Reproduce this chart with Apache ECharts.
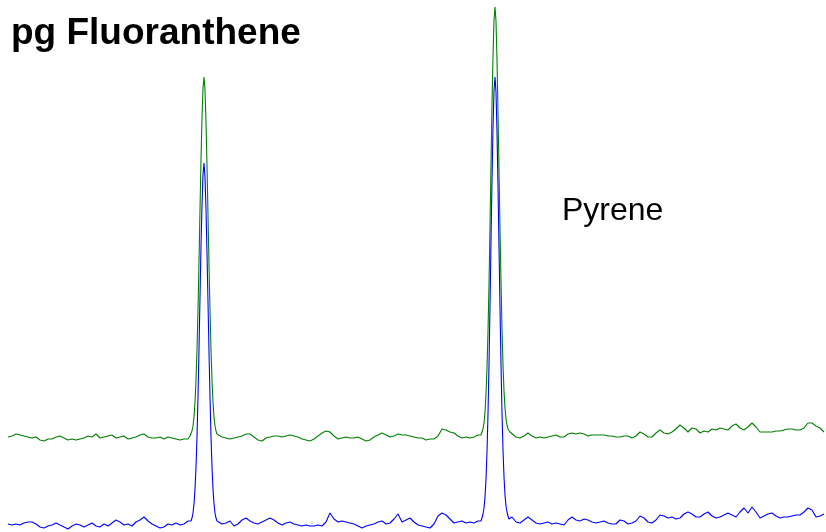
<!DOCTYPE html>
<html>
<head>
<meta charset="utf-8">
<script src="https://cdn.jsdelivr.net/npm/echarts@6/dist/echarts.min.js"></script>
<style>
html,body{margin:0;padding:0;background:#fff;}
#chart{width:826px;height:532px;}
</style>
</head>
<body>
<div id="chart"></div>
<script>
// Sampling segments of the trace (scan axis): [start, end, step]
const scanSegments = [[8,188,4],[190,218,1],[222,478,4],[480,512,1],[516,824,4]];

// Green trace (upper chromatogram), signal per scan, segment by segment
const greenA = [95,96,98,97,96,95,94,95,92,91,93,93,95,96,94,92,93,92,93,94,96,95,98,94,95,96,97,94,95,96,93,94,95,97,98,95,94,94,95,93,95,94,93,92,93,93];
const greenPeak1 = [96,98,101,106,115,130,152,182,222,270,322,372,414,444,455,442,410,366,317,267,222,182,152,130,115,106,101,98,96];
const greenB = [95,94,93,94,95,96,98,98,95,92,91,94,95,96,96,95,96,97,96,95,93,92,91,93,96,99,101,100,96,93,94,95,94,94,95,93,91,92,95,97,99,97,95,96,98,97,97,96,95,94,94,92,93,93,96,103,102,100,99,96,94,95,94,95,97];
const greenPeak2 = [96,97,100,103,109,120,138,164,200,247,305,367,426,476,512,525,511,472,420,362,303,250,203,167,141,124,113,107,103,101,100,100,99];
const greenC = [95,94,96,99,96,94,95,94,95,96,97,95,95,98,99,98,99,98,96,97,97,97,97,96,96,95,95,96,96,94,96,100,98,95,95,99,102,99,98,100,103,107,104,100,104,103,99,101,100,103,102,104,103,102,106,108,104,102,105,109,105,100,100,100,100,101,101,102,103,103,102,102,104,109,109,106,104,100];

// Blue trace (lower chromatogram)
const blueA = [8,7,8,7,9,10,10,8,5,4,6,7,9,7,5,3,6,8,7,5,7,9,6,5,8,6,9,12,10,7,8,6,10,12,15,11,8,6,4,5,8,7,9,7,8,11];
const bluePeak1 = [9,11,14,19,28,43,65,95,135,183,235,286,327,357,369,355,323,279,230,180,135,95,65,43,28,19,14,11,9];
const blueB = [8,9,11,6,8,12,14,11,9,8,10,12,14,12,9,7,9,10,8,7,6,7,6,6,7,6,10,19,13,10,11,10,9,8,6,4,6,7,8,10,11,8,9,13,18,10,12,14,10,7,6,5,4,8,16,19,17,13,9,10,11,9,10,9,11];
const bluePeak2 = [10,11,14,18,24,35,53,80,118,167,226,291,352,404,441,455,440,400,346,285,224,168,119,82,55,37,26,20,16,13,12,13,15];
const blueC = [10,9,12,15,12,9,8,9,10,8,9,8,7,12,15,12,11,13,12,10,9,10,11,9,8,8,12,11,8,9,11,16,14,10,9,12,17,16,14,15,13,14,18,20,18,15,15,18,20,16,14,15,17,19,17,15,20,24,19,25,20,14,16,18,19,16,14,15,15,16,17,17,20,24,22,15,16,18];

const titleText = 'pg Fluoranthene';
const peakLabel = 'Pyrene';

const scans = [];
scanSegments.forEach(([s, e, st]) => { for (let x = s; x <= e; x += st) scans.push(x); });
const green = [].concat(greenA, greenPeak1, greenB, greenPeak2, greenC);
const blue = [].concat(blueA, bluePeak1, blueB, bluePeak2, blueC);
const pair = (vals) => scans.map((x, i) => [x, vals[i]]);

const chart = echarts.init(document.getElementById('chart'), null, {renderer: 'canvas'});
chart.setOption({
  animation: false,
  backgroundColor: '#ffffff',
  title: [
    {text: titleText, left: 11, top: 15, padding: 0,
     textStyle: {fontFamily: 'Liberation Sans, Arial, sans-serif', fontSize: 37, fontWeight: 'bold', color: '#000'}},
    {text: peakLabel, left: 562, top: 195, padding: 0,
     textStyle: {fontFamily: 'Liberation Sans, Arial, sans-serif', fontSize: 32, fontWeight: 'normal', color: '#000'}}
  ],
  grid: {left: 0, right: 0, top: 0, bottom: 0},
  xAxis: {type: 'value', min: 0, max: 826, show: false},
  yAxis: {type: 'value', min: 0, max: 532, show: false},
  series: [
    {type: 'line', data: pair(green), symbol: 'none', lineStyle: {color: '#008000', width: 1.1}, itemStyle: {color: '#008000'}},
    {type: 'line', data: pair(blue), symbol: 'none', lineStyle: {color: '#0000ff', width: 1.1}, itemStyle: {color: '#0000ff'}}
  ]
});
</script>
</body>
</html>
